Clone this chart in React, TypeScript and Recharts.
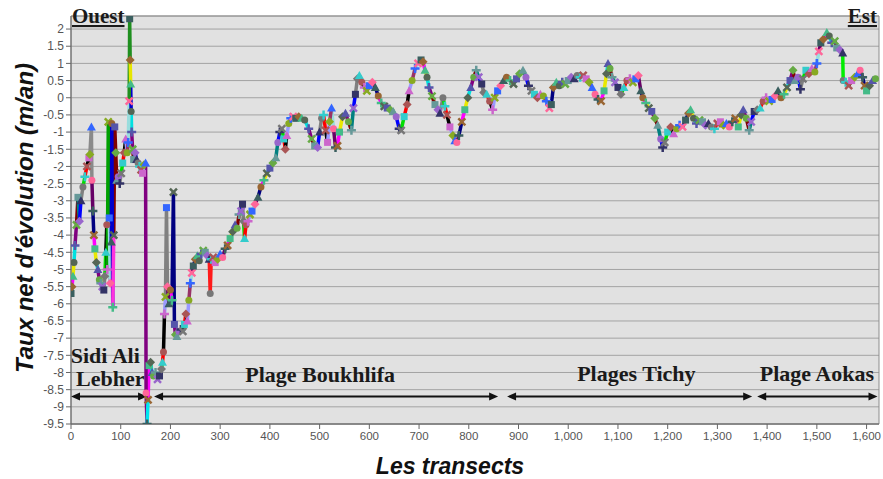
import React from 'react';
import {
  LineChart,
  Line,
  XAxis,
  YAxis,
  CartesianGrid,
  ReferenceLine,
  ReferenceDot,
  ReferenceArea,
} from 'recharts';

// transect number -> net shoreline change rate (m/an)
const transects = [
  0, 2, 4, 6, 8, 11, 14, 17, 20, 24,
  28, 32, 36, 38, 41, 42, 44, 46, 48, 51,
  54, 57, 60, 63, 66, 68, 70, 72, 73, 75,
  77, 79, 81, 82, 84, 86, 88, 90, 92, 95,
  98, 101, 104, 107, 110, 113, 115, 117, 118, 119,
  120, 121, 122, 124, 126, 129, 132, 135, 138, 141,
  144, 147, 150, 151, 153, 155, 157, 160, 163, 166,
  170, 174, 178, 182, 184, 186, 188, 190, 192, 194,
  197, 200, 203, 206, 208, 210, 213, 217, 221, 225,
  228, 231, 234, 237, 240, 243, 246, 250, 254, 258,
  262, 266, 270, 274, 278, 280, 282, 286, 290, 295,
  300, 305, 310, 315, 320, 325, 330, 334, 338, 342,
  345, 347, 349, 352, 356, 360, 364, 370, 376, 382,
  388, 394, 400, 406, 412, 416, 420, 424, 428, 431,
  434, 438, 442, 447, 452, 458, 464, 470, 478, 484,
  490, 496, 500, 504, 508, 512, 516, 520, 524, 528,
  532, 536, 540, 546, 552, 558, 564, 568, 572, 576,
  580, 585, 590, 595, 600, 606, 612, 618, 624, 630,
  636, 642, 648, 654, 660, 664, 670, 676, 680, 686,
  692, 698, 704, 708, 712, 716, 720, 726, 732, 738,
  742, 748, 752, 756, 762, 768, 772, 776, 780, 786,
  792, 798, 804, 810, 815, 820, 826, 830, 836, 842,
  848, 852, 858, 864, 870, 876, 883, 890, 896, 902,
  909, 915, 920, 926, 932, 938, 944, 950, 956, 962,
  966, 970, 976, 982, 988, 994, 1000, 1006, 1012, 1018,
  1024, 1030, 1036, 1042, 1048, 1054, 1060, 1066, 1072, 1077,
  1080, 1084, 1088, 1094, 1100, 1106, 1112, 1118, 1124, 1130,
  1136, 1141, 1146, 1150, 1156, 1162, 1168, 1174, 1180, 1186,
  1190, 1194, 1200, 1206, 1212, 1218, 1224, 1230, 1236, 1242,
  1246, 1252, 1258, 1264, 1270, 1276, 1282, 1288, 1294, 1300,
  1306, 1312, 1318, 1324, 1330, 1336, 1342, 1348, 1352, 1358,
  1364, 1368, 1374, 1380, 1386, 1392, 1398, 1404, 1410, 1416,
  1422, 1428, 1434, 1440, 1446, 1452, 1456, 1462, 1467, 1472,
  1478, 1484, 1490, 1496, 1500, 1504, 1508, 1513, 1520, 1525,
  1530, 1536, 1540, 1546, 1552, 1553, 1558, 1564, 1570, 1576,
  1582, 1587, 1592, 1596, 1600, 1606, 1612, 1618,
];

const rates = [
  -5.7, -5.5, -5.2, -4.8, -4.3, -3.7, -2.9, -3.6, -3.0, -2.6,
  -2.3, -2.0, -1.75, -1.65, -0.85, -2.4, -3.3, -4.0, -4.4, -4.8,
  -5.0, -5.3, -5.4, -5.5, -5.6, -5.2, -4.5, -3.7, -5.0, -0.7,
  -3.5, -5.4, -4.2, -0.75, -6.1, -4.0, -0.85, -1.6, -2.4, -2.3,
  -2.5, -2.2, -1.9, -1.6, -1.2, -1.6, -1.3, -0.1, 2.3, 1.1,
  0.4, -0.4, -1.0, -1.5, -1.8, -1.6, -1.8, -1.9, -2.0, -2.1,
  -2.2, -1.95, -1.9, -8.6, -9.5, -8.8, -7.8, -7.7, -8.0, -8.1,
  -8.0, -8.2, -8.1, -7.9, -7.7, -7.4, -6.3, -5.8, -3.2, -5.5,
  -6.0, -5.6, -5.9, -2.75, -6.6, -6.9, -6.95, -6.8, -6.75, -6.8,
  -6.6, -6.3, -6.5, -5.9, -5.4, -5.1, -4.9, -4.7, -4.6, -4.75,
  -4.55, -4.45, -4.5, -4.6, -4.7, -5.7, -4.7, -4.65, -4.8, -4.7,
  -4.55, -4.65, -4.4, -4.3, -4.1, -3.9, -3.7, -3.8, -3.4, -3.3,
  -3.1, -3.6, -4.1, -3.7, -3.6, -3.4, -3.3, -3.1, -2.9, -2.6,
  -2.4, -2.2, -2.05, -1.9, -1.75, -1.3, -1.0, -0.9, -1.2, -1.5,
  -1.1, -0.75, -0.6, -0.55, -0.6, -0.55, -0.6, -0.65, -0.9, -1.2,
  -1.4, -1.45, -1.0, -0.6, -0.5, -0.95, -1.3, -0.7, -0.3, -0.9,
  -1.45, -1.4, -1.0, -0.55, -0.45, -0.7, -0.95, -0.3, 0.1, 0.55,
  0.65, 0.45, 0.3, 0.2, 0.35, 0.45, 0.3, 0.05, -0.15, -0.25,
  -0.3, -0.35, -0.4, -0.55, -0.9, -0.95, -0.55, -0.2, 0.2, 0.5,
  0.85, 1.0, 1.1, 1.05, 0.8, 0.6, 0.3, 0.05, -0.2, -0.35,
  -0.45, 0.0, -0.25, -0.5, -0.85, -1.1, -1.25, -1.3, -1.1, -0.7,
  -0.35, 0.0, 0.3, 0.6, 0.8, 0.6, 0.4, 0.15, 0.1, -0.1,
  -0.35, 0.0, 0.2, 0.35, 0.5, 0.6, 0.5, 0.4, 0.55, 0.7,
  0.8, 0.6, 0.35, 0.2, 0.1, 0.0, 0.1, 0.05, -0.1, -0.3,
  -0.2, 0.3, 0.45, 0.35, 0.45, 0.4, 0.5, 0.6, 0.55, 0.65,
  0.6, 0.65, 0.55, 0.45, 0.3, 0.1, -0.05, -0.1, 0.2, 0.7,
  1.0, 0.85, 0.6, 0.45, 0.3, 0.1, 0.3, 0.5, 0.55, 0.45,
  0.55, 0.65, 0.2, 0.0, -0.15, -0.3, -0.4, -0.6, -0.8, -1.2,
  -1.45, -1.3, -1.0, -0.85, -1.05, -0.9, -0.8, -0.85, -0.65, -0.45,
  -0.35, -0.6, -0.75, -0.65, -0.7, -0.8, -0.75, -0.85, -0.9, -0.75,
  -0.7, -0.8, -0.75, -0.85, -0.7, -0.6, -0.85, -0.5, -0.35, -0.6,
  -0.95, -0.7, -0.4, -0.35, -0.3, -0.1, 0.0, -0.1, -0.05, 0.05,
  0.2, 0.0, 0.1, 0.3, 0.5, 0.8, 0.5, 0.6, 0.25, 0.55,
  0.8, 0.7, 0.85, 0.75, 1.0, 1.35, 1.6, 1.7, 1.9, 1.8,
  1.6, 1.65, 1.45, 1.4, 1.3, 0.5, 0.45, 0.35, 0.5, 0.6,
  0.7, 0.8, 0.6, 0.35, 0.2, 0.35, 0.5, 0.55,
];

const xTicks = [0, 100, 200, 300, 400, 500, 600, 700, 800, 900, 1000, 1100, 1200, 1300, 1400, 1500, 1600];
const yTicks = [
  -9.5, -9, -8.5, -8, -7.5, -7, -6.5, -6, -5.5, -5, -4.5, -4,
  -3.5, -3, -2.5, -2, -1.5, -1, -0.5, 0, 0.5, 1, 1.5, 2,
];

// beach sections (arrows along the bottom)
const sectionStart = [0, 167, 877, 1380];
const sectionEnd = [153, 859, 1370, 1622];
const ARROW_Y = -8.7;

const annotText = ['Sidi Ali', 'Lebher', 'Plage Boukhlifa', 'Plages Tichy', 'Plage Aokas'];
const annotX = [69, 79, 501, 1137, 1500];
const annotY = [-7.5, -8.17, -8.05, -8.03, -8.03];

const X_MAX = 1625;
const Y_MIN = -9.5;
const Y_MAX = 2.38;

const SEGMENT_COLORS = [
  '#000080', '#ff00ff', '#e8e800', '#00e0e0', '#800080', '#800000', '#008080', '#0000ff',
  '#808080', '#00dd00', '#ff0000', '#000000', '#9999ff', '#993366', '#99dddd', '#660066',
];

// a few of the tall bars have a distinct colour in the figure
const BAR_COLORS: Record<number, string> = {
  41: '#8a8a8a',
  72: '#000000',
  75: '#00a000',
  82: '#0000cc',
  84: '#ff33dd',
  88: '#800000',
  118: '#1f8f1f',
  119: '#e6e600',
  120: '#0000cc',
  151: '#800080',
  153: '#00e5ee',
  192: '#808080',
  206: '#000080',
  280: '#ff1a1a',
  1553: '#00ee00',
};

const MARKER_COLORS = [
  '#3a5f5f', '#9966cc', '#3366ff', '#66aa44', '#cc66cc', '#556655', '#33cccc', '#996633',
  '#333366', '#ff6699', '#669999', '#88aa22', '#5555aa', '#aa5555', '#44bb88', '#777777',
];

function segmentColor(i: number) {
  return BAR_COLORS[transects[i]] ?? BAR_COLORS[transects[i + 1]] ?? SEGMENT_COLORS[i % SEGMENT_COLORS.length];
}

// one series per colour, each holding only the segments drawn in that colour
const colorKeys: string[] = [];
const rows: Record<string, number | null>[] = transects.map((x, i) => ({ x, y: rates[i] }));
for (let i = 0; i < transects.length - 1; i++) {
  const c = segmentColor(i);
  let k = colorKeys.indexOf(c);
  if (k < 0) {
    colorKeys.push(c);
    k = colorKeys.length - 1;
  }
  rows[i][`s${k}`] = rates[i];
  rows[i + 1][`s${k}`] = rates[i + 1];
}

function renderMarker(props: any) {
  const { cx, cy, index } = props;
  const key = `m-${index}`;
  if (typeof cx !== 'number' || typeof cy !== 'number') return <g key={key} />;
  const color = MARKER_COLORS[(index * 7) % MARKER_COLORS.length];
  const s = 3.5;
  switch (index % 6) {
    case 0:
      return <rect key={key} x={cx - s} y={cy - s} width={2 * s} height={2 * s} fill={color} />;
    case 1:
      return <path key={key} d={`M${cx} ${cy - s - 1}L${cx + s + 1} ${cy}L${cx} ${cy + s + 1}L${cx - s - 1} ${cy}Z`} fill={color} />;
    case 2:
      return <path key={key} d={`M${cx} ${cy - s - 1}L${cx + s + 1} ${cy + s}L${cx - s - 1} ${cy + s}Z`} fill={color} />;
    case 3:
      return <circle key={key} cx={cx} cy={cy} r={s} fill={color} />;
    case 4:
      return <path key={key} d={`M${cx - s - 1} ${cy}H${cx + s + 1}M${cx} ${cy - s - 1}V${cy + s + 1}`} stroke={color} strokeWidth={2.5} />;
    default:
      return <path key={key} d={`M${cx - s} ${cy - s}L${cx + s} ${cy + s}M${cx + s} ${cy - s}L${cx - s} ${cy + s}`} stroke={color} strokeWidth={2.5} />;
  }
}

function DoubleArrow(props: any) {
  const { x1, y1, x2, y2 } = props;
  const h = 9;
  const w = 4;
  return (
    <g>
      <line x1={x1 + h - 1} y1={y1} x2={x2 - h + 1} y2={y2} stroke="#111" strokeWidth={2} />
      <path d={`M${x1} ${y1}L${x1 + h} ${y1 - w}L${x1 + h} ${y1 + w}Z`} fill="#111" />
      <path d={`M${x2} ${y2}L${x2 - h} ${y2 - w}L${x2 - h} ${y2 + w}Z`} fill="#111" />
    </g>
  );
}

const SANS = '"Liberation Sans", Arial, sans-serif';
const SERIF = '"Liberation Serif", "Times New Roman", serif';

export default function App() {
  return (
    <div style={{ position: 'absolute', left: 0, top: 0, width: 883, height: 479, background: '#fff' }}>
      <LineChart width={883} height={479} data={rows} margin={{ top: 16, right: 4, bottom: 0, left: 0 }}>
        <CartesianGrid horizontal vertical={false} stroke="#a3a3a3" fill="#e1e1e1" fillOpacity={1} />
        <ReferenceArea x1={0} x2={X_MAX} y1={Y_MIN} y2={Y_MAX} fill="none" stroke="#8c8c8c" />
        <XAxis
          type="number"
          dataKey="x"
          domain={[0, X_MAX]}
          ticks={xTicks}
          interval={0}
          allowDataOverflow
          tickFormatter={(v: number) => v.toLocaleString('en-US')}
          tick={{ fontSize: 11.5, fill: '#555', fontFamily: SANS }}
          tickSize={5}
          tickMargin={3}
          stroke="#666"
          height={55}
        />
        <YAxis
          type="number"
          domain={[Y_MIN, Y_MAX]}
          ticks={yTicks}
          interval={0}
          allowDataOverflow
          tick={{ fontSize: 12, fill: '#555', fontFamily: SANS }}
          tickSize={5}
          tickMargin={2}
          stroke="#666"
          width={71}
        />
        {colorKeys.map((c, k) => (
          <Line
            key={c}
            dataKey={`s${k}`}
            stroke={c}
            strokeWidth={3.5}
            dot={false}
            activeDot={false}
            isAnimationActive={false}
            legendType="none"
          />
        ))}
        <Line
          dataKey="y"
          stroke="none"
          dot={renderMarker}
          activeDot={false}
          isAnimationActive={false}
        />
        {sectionStart.map((s, i) => (
          <ReferenceLine
            key={`sec-${i}`}
            segment={[{ x: s, y: ARROW_Y }, { x: sectionEnd[i], y: ARROW_Y }]}
            shape={DoubleArrow}
          />
        ))}
        {annotText.map((t, i) => (
          <ReferenceDot
            key={`lab-${i}`}
            x={annotX[i]}
            y={annotY[i]}
            r={0}
            fill="none"
            stroke="none"
            label={{
              value: t,
              position: 'center',
              fill: '#1a1a1a',
              fontSize: 22,
              fontWeight: 'bold',
              fontFamily: SERIF,
            }}
          />
        ))}
      </LineChart>
      <svg width={883} height={479} style={{ position: 'absolute', left: 0, top: 0, pointerEvents: 'none' }}>
        <text x={72} y={23} fontFamily={SERIF} fontWeight="bold" fontSize={21} fill="#1a1a1a" textDecoration="underline">
          Ouest
        </text>
        <text x={877} y={23} textAnchor="end" fontFamily={SERIF} fontWeight="bold" fontSize={21} fill="#1a1a1a" textDecoration="underline">
          Est
        </text>
        <text
          x={33}
          y={218}
          transform="rotate(-90, 33, 218)"
          textAnchor="middle"
          fontFamily={SANS}
          fontWeight="bold"
          fontStyle="italic"
          fontSize={24}
          fill="#111"
        >
          Taux net d'évolution (m/an)
        </text>
        <text x={450} y={474} textAnchor="middle" fontFamily={SANS} fontWeight="bold" fontStyle="italic" fontSize={23} fill="#111">
          Les transects
        </text>
      </svg>
    </div>
  );
}
